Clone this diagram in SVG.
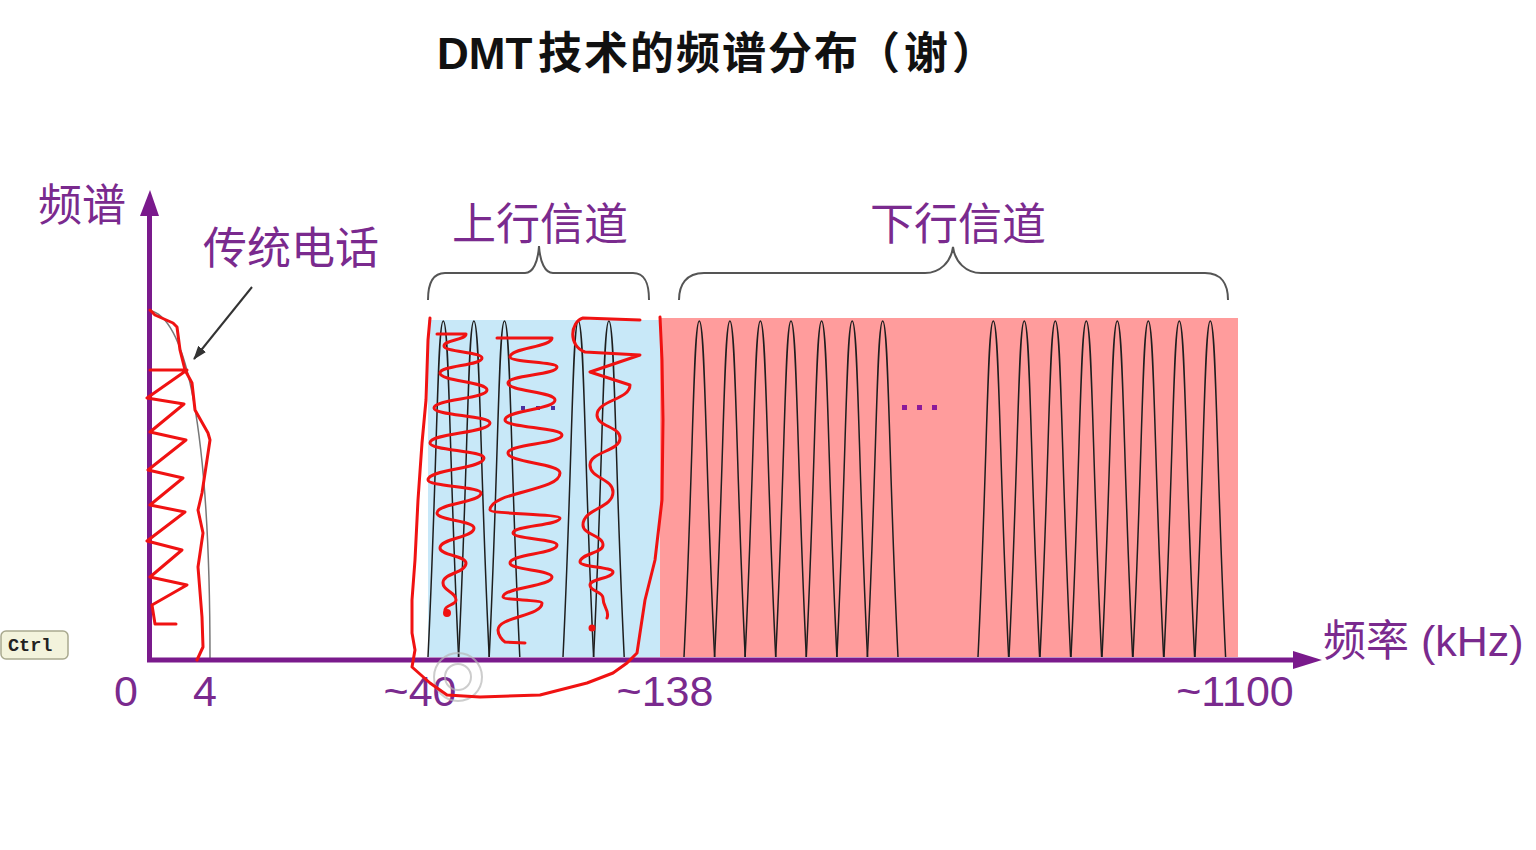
<svg xmlns="http://www.w3.org/2000/svg" width="1536" height="850" viewBox="0 0 1536 850">
<style>
.cjk{font-family:"Noto Sans CJK SC","Liberation Sans",sans-serif;fill:#7a2a8e;font-size:44px}
.num{font-family:"Liberation Sans","Noto Sans CJK SC",sans-serif;fill:#7a2a8e;font-size:43px}
.arch{fill:none;stroke:#1e1e1e;stroke-width:1.5}
.red{fill:none;stroke:#f01212;stroke-width:3;stroke-linejoin:round;stroke-linecap:round}
.brace{fill:none;stroke:#555;stroke-width:2}
.axis{stroke:#7a1a8c;stroke-width:5;fill:none}
</style>
<defs>
<path id="arch" d="M0,0 C9.5,-197 9.2,-336 15.3,-336 C21.4,-336 21.1,-197 30.6,0"/>
<marker id="ptr" markerWidth="14" markerHeight="10" refX="13" refY="5" orient="auto" markerUnits="userSpaceOnUse">
<path d="M0,0 L14,5 L0,10 Z" fill="#333"/>
</marker>
</defs>
<rect width="1536" height="850" fill="#ffffff"/>

<g id="title" font-family="Liberation Sans,'Noto Sans CJK SC',sans-serif" font-size="44" font-weight="600" fill="#111">
<text x="437" y="69">DMT<tspan x="538" letter-spacing="2">技术的频谱分布</tspan><tspan x="856">（</tspan><tspan x="904">谢</tspan><tspan x="952">）</tspan></text>
</g>

<g id="upstream-band">
<rect x="428" y="320" width="232" height="337" fill="#c8e8f8"/>
<g class="arch">
<use href="#arch" x="428" y="657"/>
<use href="#arch" x="458.6" y="657"/>
<use href="#arch" x="489.2" y="657"/>
<use href="#arch" x="563" y="657"/>
<use href="#arch" x="593.6" y="657"/>
</g>
<g fill="#4a2fa0">
<rect x="521" y="406" width="4" height="4"/>
<rect x="536" y="406" width="4" height="4"/>
<rect x="551" y="406" width="4" height="4"/>
</g>
</g>

<g id="downstream-band">
<rect x="660" y="318" width="578" height="339" fill="#ff9c9c"/>
<g class="arch">
<use href="#arch" x="684" y="657"/>
<use href="#arch" x="714.6" y="657"/>
<use href="#arch" x="745.1" y="657"/>
<use href="#arch" x="775.7" y="657"/>
<use href="#arch" x="806.3" y="657"/>
<use href="#arch" x="836.9" y="657"/>
<use href="#arch" x="867.4" y="657"/>
<use href="#arch" x="978" y="657"/>
<use href="#arch" x="1009" y="657"/>
<use href="#arch" x="1040" y="657"/>
<use href="#arch" x="1071" y="657"/>
<use href="#arch" x="1102" y="657"/>
<use href="#arch" x="1133" y="657"/>
<use href="#arch" x="1164" y="657"/>
<use href="#arch" x="1195" y="657"/>
</g>
<g fill="#8b1a9a">
<rect x="902" y="405" width="5" height="5"/>
<rect x="917" y="405" width="5" height="5"/>
<rect x="932" y="405" width="5" height="5"/>
</g>
</g>

<g id="phone-band">
<path d="M152,311 C185,322 210,420 210,658" fill="none" stroke="#777" stroke-width="1.5"/>
</g>

<g id="axes">
<line class="axis" x1="149.5" y1="662" x2="149.5" y2="208"/>
<polygon points="140,216 150,190 159,216" fill="#7a1a8c"/>
<line class="axis" x1="147" y1="660" x2="1298" y2="660"/>
<polygon points="1293,651 1322,660 1293,669" fill="#7a1a8c"/>
</g>

<g id="braces">
<path class="brace" d="M428,300 C428,285 432,273 445,273 L525,273 C533,273 538,262 539,246 C540,262 545,273 553,273 L633,273 C646,273 649,285 649,300"/>
<path class="brace" d="M679,300 C679,285 686,273 704,273 L925,273 C940,273 951,262 953,247 C955,262 966,273 981,273 L1205,273 C1222,273 1228,285 1228,300"/>
</g>

<g id="labels">
<text class="cjk" x="38" y="221">频谱</text>
<text class="cjk" x="203" y="264">传统电话</text>
<text class="cjk" x="452" y="240">上行信道</text>
<text class="cjk" x="870" y="240">下行信道</text>
<text class="num" x="1323" y="656" font-size="44">频率 (kHz)</text>
<g class="num" text-anchor="middle">
<text x="126" y="706">0</text>
<text x="205" y="706">4</text>
<text x="420" y="706">~40</text>
<text x="665" y="706">~138</text>
<text x="1235" y="706">~1100</text>
</g>
</g>

<g id="connectors">
<line x1="252" y1="287" x2="194" y2="359" stroke="#333" stroke-width="2" marker-end="url(#ptr)"/>
</g>

<g id="click-indicator" fill="none" stroke="#b8b8b8" stroke-width="2" opacity="0.7">
<circle cx="458" cy="677" r="24"/>
<circle cx="458" cy="677" r="13"/>
</g>

<g id="red-annotations" class="red">
<path d="M150,310 L155,315 L173,323 L177,327 L180,350 L185,370 L192,383 L195,410 L208,433 L210,440 L207,460 L202,493 L198,510 L203,533 L198,567 L202,617 L203,647 L197,660"/>
<path d="M150,370 L187,370 L147,398 L184,404 L150,432 L186,440 L148,470 L183,478 L150,505 L185,512 L147,541 L182,550 L150,577 L187,585 L152,605 L155,624 L176,624"/>
<path d="M430,318 L428,340 L426,400 L422,443 L418,500 L415,560 L412,600 L412,633 L415,650 L412,667 L430,683 L447,695 L480,697 L540,695 L587,683 L613,673 L627,663 L637,653 L640,633 L645,600 L655,560 L662,500 L663,420 L662,360 L660,317"/>
<path d="M437,334 L466,334 C466,340 444,340 444,346 C444,352 482,352 482,358 C482,365.5 440,365.5 440,373 C440,381.5 487,381.5 487,390 C487,399 434,399 434,408 C434,415.5 490,415.5 490,423 C490,433 430,433 430,443 C430,450.5 484,450.5 484,458 C484,469 428,469 428,480 C428,486.5 481,486.5 481,493 C481,503 437,503 437,513 C437,520.5 474,520.5 474,528 C474,538 440,538 440,548 C440,555.5 466,555.5 466,563 C466,573 443,573 443,583 C443,591.5 456,591.5 456,600 C456,605 445,605 445,610"/>
<circle cx="447" cy="613" r="2.5" fill="#f01212"/>
<path d="M497,338 L552,338 C552,347.5 510,347.5 510,357 C510,362 557,362 557,367 C557,375 508,375 508,383 C508,391.5 555,391.5 555,400 C555,410 505,410 505,420 C505,427.5 562,427.5 562,435 C562,444 508,444 508,453 C508,463 560,463 560,473 C560,491.5 490,491.5 490,510 C490,514 560,514 560,518 C560,525.5 513,525.5 513,533 C513,539 557,539 557,545 C557,554 510,554 510,563 C510,570 552,570 552,577 C552,587 503,587 503,597 C503,600 542,600 542,603 C542,616.5 498,616.5 498,630 C498,635 502,640 505,642 L525,643"/>
<path d="M640,320 L583,318 C570,322 568,346 585,352 L640,355 L590,372 L630,385 C630,400 597,400 597,415 C597,426.5 620,426.5 620,438 C620,451.5 590,451.5 590,465 C590,478.5 613,478.5 613,492 C613,508.5 583,508.5 583,525 C583,535 603,535 603,545 C603,553.5 580,553.5 580,562 C580,567 613,567 613,572 C613,578.5 590,578.5 590,585 C590,591.5 603,591.5 603,598 C603,608 610,610 607,618"/>
<circle cx="592" cy="628" r="2" fill="#f01212"/>
</g>

<g id="ctrl-key">
<rect x="1" y="631" width="67" height="28" rx="5" fill="#f3f3dc" stroke="#a9a98f" stroke-width="1.5"/>
<text x="8" y="651" font-family="Liberation Mono,monospace" font-size="18.5" font-weight="bold" fill="#222">Ctrl</text>
</g>
</svg>
